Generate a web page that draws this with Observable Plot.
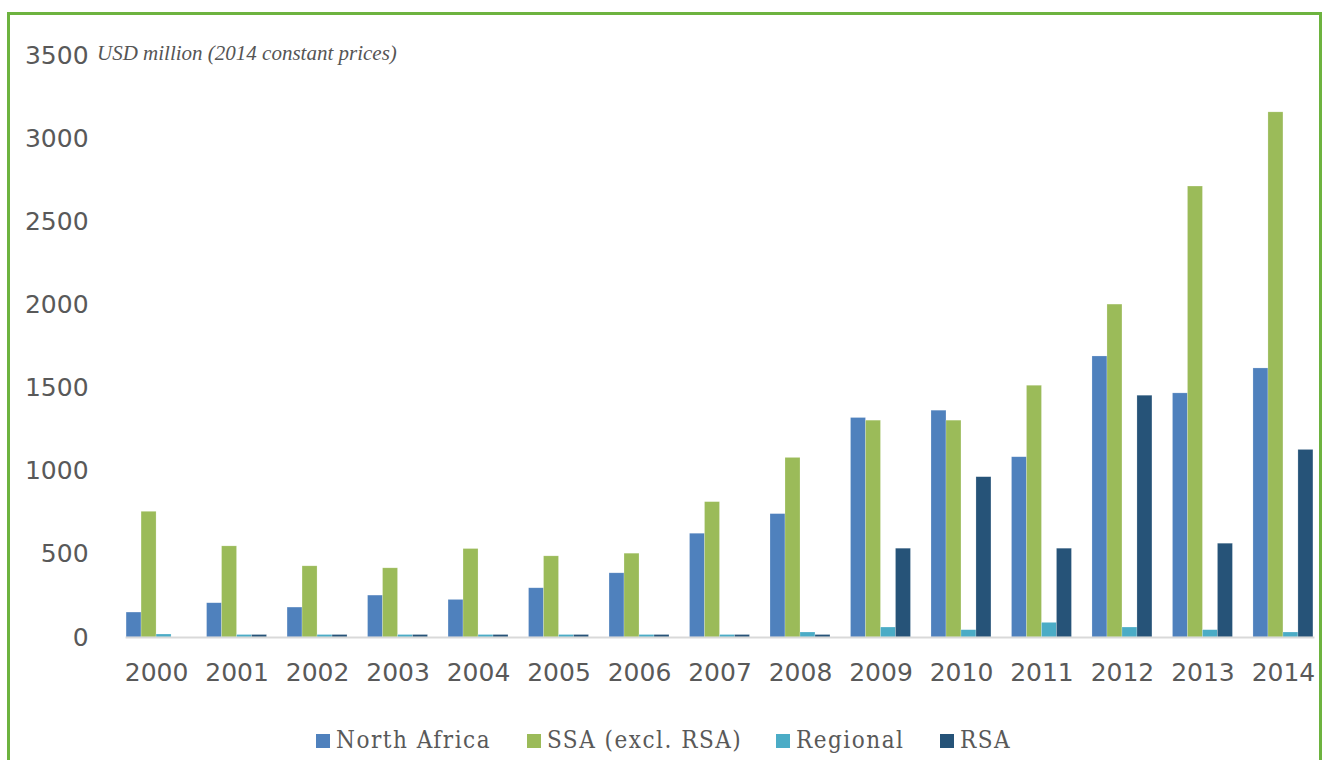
<!DOCTYPE html>
<html>
<head>
<meta charset="utf-8">
<script src="https://cdn.jsdelivr.net/npm/d3@7"></script>
<script src="https://cdn.jsdelivr.net/npm/@observablehq/plot@0.6"></script>
<style>
  html, body { margin: 0; padding: 0; background: #fff; }
  #wrap { position: relative; width: 1325px; height: 760px; overflow: hidden; background: #fff; }
  #frame { position: absolute; left: 7px; top: 12px; width: 1309px; height: 800px; border: 3px solid #6db33f; box-sizing: content-box; }
  #chart { position: absolute; left: 0; top: 0; }
  #subtitle { position: absolute; left: 97px; top: 43px; font-family: "Liberation Serif", serif; font-style: italic; font-size: 21px; line-height: 21px; color: #555555; white-space: nowrap; }
  #legend { position: absolute; left: 0; top: 0; width: 1325px; height: 760px; pointer-events: none;
    font-family: "DejaVu Serif Condensed", "DejaVu Serif", serif; font-stretch: condensed; font-size: 24px; letter-spacing: 1.5px; color: #595959; }
  .item { position: absolute; top: 726px; display: flex; align-items: center; white-space: nowrap; line-height: 28px; }
  .sw { width: 14px; height: 14px; margin-right: 6px; margin-top: 2px; flex: none; }
</style>
</head>
<body>
<div id="wrap">
  <div id="frame"></div>
  <div id="chart"></div>
  <div id="subtitle"></div>
  <div id="legend"></div>
</div>
<script>
const years = ["2000","2001","2002","2003","2004","2005","2006","2007","2008","2009","2010","2011","2012","2013","2014"];
const seriesNames = ["North Africa", "SSA (excl. RSA)", "Regional", "RSA"];
const seriesColors = ["#4f81bd", "#9bbb59", "#4bacc6", "#265378"];
const northAfrica = [150, 206, 180, 252, 226, 296, 386, 624, 742, 1320, 1364, 1084, 1690, 1468, 1618];
const ssa         = [756, 548, 428, 416, 532, 488, 504, 814, 1080, 1304, 1304, 1514, 2002, 2712, 3158];
const regional    = [18, 15, 15, 15, 15, 15, 15, 15, 30, 60, 44, 88, 60, 44, 30];
const rsa         = [0, 15, 15, 15, 15, 15, 15, 15, 15, 534, 964, 534, 1454, 564, 1128];
const yTicks = [0, 500, 1000, 1500, 2000, 2500, 3000, 3500];
const yLabel = "USD million (2014 constant prices)";
const legendLeft = [316, 527, 776, 940];

const seriesValues = [northAfrica, ssa, regional, rsa];
const data = [];
years.forEach((yr, i) => {
  seriesNames.forEach((s, j) => {
    data.push({year: yr, series: s, value: seriesValues[j][i]});
  });
});

const chart = Plot.plot({
  width: 1325,
  height: 700,
  marginTop: 55,
  marginBottom: 63,
  marginLeft: 114,
  marginRight: 0,
  style: { fontFamily: "DejaVu Sans, sans-serif", color: "#595959", background: "transparent" },
  fx: { domain: years, paddingInner: 0.255, paddingOuter: 0.15, round: false, label: null },
  x: { domain: seriesNames, padding: 0, round: false, axis: null },
  y: { domain: [0, 3500], ticks: yTicks, label: null },
  color: { domain: seriesNames, range: seriesColors },
  marks: [
    Plot.axisFx({ anchor: "bottom", tickSize: 0, tickPadding: 26, fontSize: 25, label: null, fill: "#595959" }),
    Plot.axisY({ ticks: yTicks, tickSize: 0, tickPadding: 38, fontSize: 25, label: null, fill: "#595959", tickFormat: d => String(d) }),
    Plot.barY(data, { fx: "year", x: "series", y: "value", fill: "series", stroke: "#ffffff", strokeOpacity: 0.35, strokeWidth: 0.6 }),
    Plot.frame({ anchor: "bottom", stroke: "#d9d9d9", strokeWidth: 2, facet: "super" })
  ]
});
document.getElementById("chart").appendChild(chart);
document.getElementById("subtitle").textContent = yLabel;

const legend = document.getElementById("legend");
seriesNames.forEach((s, j) => {
  const it = document.createElement("div");
  it.className = "item";
  it.style.left = legendLeft[j] + "px";
  const sw = document.createElement("div");
  sw.className = "sw";
  sw.style.background = seriesColors[j];
  const t = document.createElement("span");
  t.textContent = s;
  it.appendChild(sw);
  it.appendChild(t);
  legend.appendChild(it);
});
</script>
</body>
</html>
